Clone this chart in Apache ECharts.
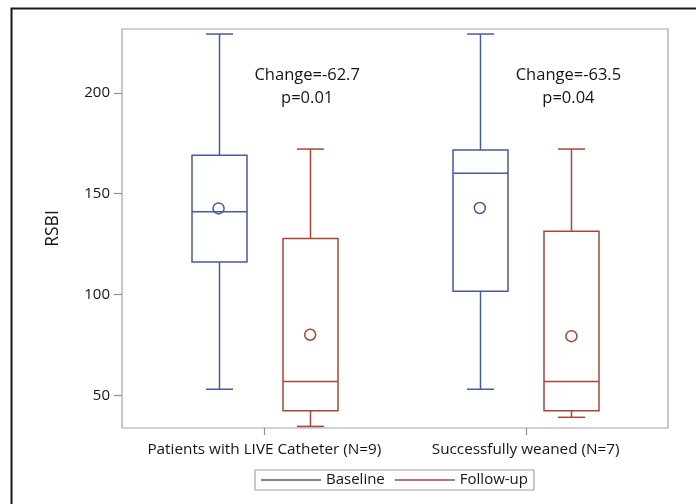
<!DOCTYPE html>
<html>
<head>
<meta charset="utf-8">
<script src="https://cdn.jsdelivr.net/npm/echarts@6/dist/echarts.min.js"></script>
<style>
html,body{margin:0;padding:0;background:#fff;}
#chart{width:696px;height:504px;}
</style>
</head>
<body>
<div id="chart"></div>
<script>
// ---- data ----
const categories = ['Patients with LIVE Catheter (N=9)', 'Successfully weaned (N=7)'];
// [min, Q1, median, Q3, max]
const baselineBox = [[53, 116, 141, 169, 229], [53, 101.6, 160, 171.5, 229]];
const followupBox = [[34.6, 42.4, 56.8, 127.7, 172], [39.1, 42.4, 56.8, 131.3, 172]];
const baselineMean = [142.6, 142.8];
const followupMean = [80, 79.3];
const changeLabels = ['Change=-62.7', 'Change=-63.5'];
const pLabels = ['p=0.01', 'p=0.04'];
const yTickValues = [50, 100, 150, 200];
const seriesNames = ['Baseline', 'Follow-up'];

// ---- style / layout constants ----
const BLUE = '#475ba0';
const RED = '#ad4436';
const FONT = 'Open Sans';
const FRAME = '#a3a3a3';
const TICK = '#8f8f8f';
const CLUSTER_OFFSET = 0.1753;   // half distance between boxes in a cluster (axis units)
const BOX_W = 55;
const CAP_W = 27;
const X_MIN = -0.545, X_MAX = 1.545, Y_MIN = 33.8, Y_MAX = 231.5;

function boxData(list, sign) {
  return list.map((v, i) => [i + sign * CLUSTER_OFFSET].concat(v));
}
function meanData(list, sign) {
  return list.map((v, i) => [i + sign * CLUSTER_OFFSET, v]);
}

function makeRender(color) {
  return function (params, api) {
    const x = api.value(0);
    const lo = api.coord([x, api.value(1)]);
    const q1 = api.coord([x, api.value(2)]);
    const md = api.coord([x, api.value(3)]);
    const q3 = api.coord([x, api.value(4)]);
    const hi = api.coord([x, api.value(5)]);
    const cx = Math.round(lo[0]) + 0.5;
    const st = { stroke: color, lineWidth: 1.5, fill: null };
    const ln = (x1, y1, x2, y2) => ({ type: 'line', shape: { x1, y1, x2, y2 }, style: st });
    return {
      type: 'group',
      children: [
        { type: 'rect', shape: { x: cx - BOX_W / 2, y: q3[1], width: BOX_W, height: q1[1] - q3[1] }, style: st },
        ln(cx - BOX_W / 2, md[1], cx + BOX_W / 2, md[1]),
        ln(cx, q3[1], cx, hi[1]),
        ln(cx, q1[1], cx, lo[1]),
        ln(cx - CAP_W / 2, hi[1], cx + CAP_W / 2, hi[1]),
        ln(cx - CAP_W / 2, lo[1], cx + CAP_W / 2, lo[1])
      ]
    };
  };
}

const chart = echarts.init(document.getElementById('chart'), null, { renderer: 'canvas' });

const TXT = '#151515';

chart.setOption({
  animation: false,
  backgroundColor: '#fff',
  textStyle: { fontFamily: FONT, color: TXT },
  grid: {
    left: 122, right: 28, top: 29, bottom: 76,
    show: true, borderColor: FRAME, borderWidth: 1.2, backgroundColor: '#fff'
  },
  legend: {
    left: 255, top: 470,
    padding: [1, 6, 1, 6],
    borderColor: '#a0a0a0', borderWidth: 1.2,
    icon: 'rect', itemWidth: 60, itemHeight: 1.6, itemGap: 10,
    textStyle: { fontFamily: FONT, fontSize: 15, color: TXT, lineHeight: 18 },
    itemStyle: { borderWidth: 0 },
    data: [
      { name: seriesNames[0], itemStyle: { color: BLUE } },
      { name: seriesNames[1], itemStyle: { color: RED } }
    ]
  },
  xAxis: {
    type: 'value', min: X_MIN, max: X_MAX,
    splitLine: { show: false },
    axisLine: { show: false, onZero: false },
    axisTick: { show: false },
    axisLabel: {
      customValues: [0, 1], margin: 14,
      fontFamily: FONT, fontSize: 15.3, color: TXT,
      formatter: v => categories[Math.round(v)]
    }
  },
  yAxis: {
    type: 'value', min: Y_MIN, max: Y_MAX,
    name: 'RSBI', nameLocation: 'middle', nameGap: 60, nameRotate: 90,
    nameTextStyle: { fontFamily: FONT, fontSize: 17.5, color: TXT },
    splitLine: { show: false },
    axisLine: { show: false, onZero: false },
    axisTick: { show: false },
    axisLabel: { customValues: yTickValues, margin: 12, fontFamily: FONT, fontSize: 15, color: TXT }
  },
  series: [
    {
      name: seriesNames[0], type: 'custom', renderItem: makeRender(BLUE),
      itemStyle: { color: BLUE }, encode: { x: 0, y: [1, 2, 3, 4, 5] },
      data: boxData(baselineBox, -1)
    },
    {
      name: seriesNames[1], type: 'custom', renderItem: makeRender(RED),
      itemStyle: { color: RED }, encode: { x: 0, y: [1, 2, 3, 4, 5] },
      data: boxData(followupBox, 1)
    },
    {
      name: 'Baseline mean', type: 'scatter', symbol: 'circle', symbolSize: 11,
      itemStyle: { color: 'rgba(255,255,255,0)', borderColor: BLUE, borderWidth: 1.5, opacity: 1 },
      data: meanData(baselineMean, -1), z: 5
    },
    {
      name: 'Follow-up mean', type: 'scatter', symbol: 'circle', symbolSize: 11,
      itemStyle: { color: 'rgba(255,255,255,0)', borderColor: RED, borderWidth: 1.5, opacity: 1 },
      data: meanData(followupMean, 1), z: 5
    }
  ]
});

// outer frame, axis ticks and annotations positioned via the chart's own scales
const graphics = [
  { type: 'rect', shape: { x: 11.5, y: 8.5, width: 800, height: 600 }, style: { fill: null, stroke: '#1a1a1a', lineWidth: 2 }, silent: true, z: 100 }
];
yTickValues.forEach(v => {
  const p = chart.convertToPixel({ gridIndex: 0 }, [X_MIN, v]);
  const y = Math.round(p[1]) + 0.5;
  graphics.push({ type: 'line', shape: { x1: p[0] - 8, y1: y, x2: p[0], y2: y }, style: { stroke: TICK, lineWidth: 1.2 }, z: 60 });
});
categories.forEach((c, i) => {
  const p = chart.convertToPixel({ gridIndex: 0 }, [i, Y_MIN]);
  const x = Math.round(p[0]) + 0.5;
  graphics.push({ type: 'line', shape: { x1: x, y1: p[1], x2: x, y2: p[1] + 7 }, style: { stroke: TICK, lineWidth: 1.2 }, z: 60 });
});
changeLabels.forEach((c, i) => {
  const p = chart.convertToPixel({ gridIndex: 0 }, [i + CLUSTER_OFFSET, 203.1]);
  graphics.push({
    type: 'text', x: p[0] - 3, y: p[1], z: 50,
    style: {
      text: c + '\n' + pLabels[i], fontFamily: FONT, fontSize: 16.5, lineHeight: 23,
      fill: TXT, align: 'center', verticalAlign: 'middle'
    }
  });
});
chart.setOption({ graphic: graphics });
</script>
</body>
</html>
